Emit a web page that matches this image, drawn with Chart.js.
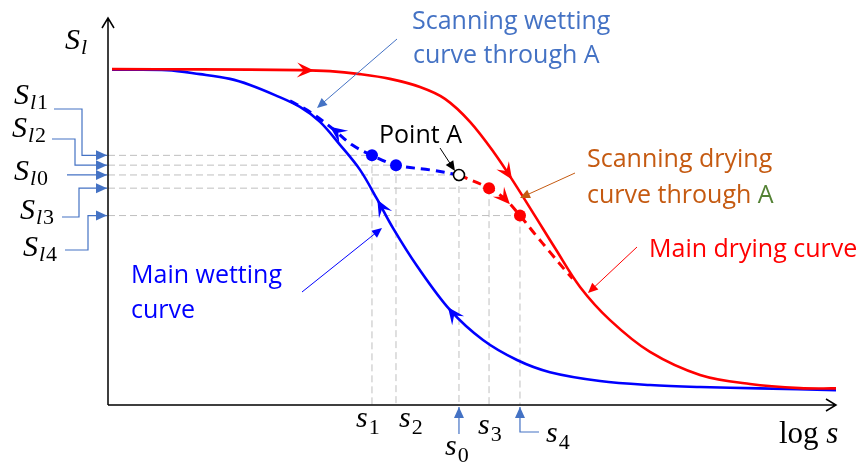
<!DOCTYPE html>
<html>
<head>
<meta charset="utf-8">
<script src="https://cdn.jsdelivr.net/npm/chart.js@4/dist/chart.umd.min.js"></script>
<style>
  html, body { margin: 0; padding: 0; background: #fff; }
  canvas { display: block; }
</style>
</head>
<body>
<canvas id="chart" width="866" height="465"></canvas>
<script>
// x = log s (0..10), y = S_l (plateau ~1)
// main drying curve
const dryX = [0.055, 1.264, 2.637, 3.049, 3.462, 3.874, 4.286, 4.629, 4.973, 5.316, 5.591, 5.865, 6.140, 6.484, 6.896, 7.445, 8.132, 8.819, 9.505, 10.0];
const dryY = [0.999, 0.998, 0.996, 0.993, 0.984, 0.970, 0.946, 0.911, 0.843, 0.748, 0.659, 0.565, 0.470, 0.355, 0.257, 0.163, 0.095, 0.068, 0.056, 0.055];
// main wetting curve
const wetX = [0.055, 0.810, 1.264, 1.676, 1.951, 2.294, 2.637, 2.912, 3.187, 3.462, 3.695, 3.915, 4.245, 4.698, 5.151, 5.618, 6.071, 6.758, 7.445, 8.132, 8.956, 10.0];
const wetY = [0.997, 0.996, 0.984, 0.970, 0.952, 0.922, 0.887, 0.843, 0.775, 0.701, 0.615, 0.529, 0.417, 0.287, 0.198, 0.139, 0.103, 0.077, 0.065, 0.059, 0.055, 0.050];
// scanning wetting curve through A
const scanWetX = [2.500, 2.775, 3.091, 3.352, 3.626, 3.956, 4.423, 4.821];
const scanWetY = [0.905, 0.872, 0.822, 0.775, 0.744, 0.715, 0.701, 0.686];
// scanning drying curve through A
const scanDryX = [4.821, 5.234, 5.453, 5.659, 5.865, 6.071, 6.277, 6.380];
const scanDryY = [0.686, 0.647, 0.615, 0.566, 0.511, 0.458, 0.405, 0.380];
// marked states: s1, s2, s0 (point A), s3, s4
const markSub = ['1', '2', '0', '3', '4'];
const markLogS = [3.626, 3.956, 4.821, 5.234, 5.659];
const markSl = [0.744, 0.715, 0.686, 0.647, 0.566];

const RED = '#ff0000';
const BLUE = '#0000ff';
const LIGHTBLUE = '#4472c4';
const ORANGE = '#c55a11';
const GREEN = '#548235';

const pts = (xs, ys) => xs.map((x, i) => ({ x: x, y: ys[i] }));

function stealth(ctx, x, y, ang, len, wid, color) {
  ctx.save();
  ctx.translate(x, y);
  ctx.rotate(ang);
  ctx.beginPath();
  ctx.moveTo(0, 0);
  ctx.lineTo(-len, -wid / 2);
  ctx.lineTo(-len * 0.6, 0);
  ctx.lineTo(-len, wid / 2);
  ctx.closePath();
  ctx.fillStyle = color;
  ctx.fill();
  ctx.restore();
}

function tri(ctx, x, y, ang, len, wid, color) {
  ctx.save();
  ctx.translate(x, y);
  ctx.rotate(ang);
  ctx.beginPath();
  ctx.moveTo(0, 0);
  ctx.lineTo(-len, -wid / 2);
  ctx.lineTo(-len, wid / 2);
  ctx.closePath();
  ctx.fillStyle = color;
  ctx.fill();
  ctx.restore();
}

function leader(ctx, x0, y0, x1, y1, color) {
  const ang = Math.atan2(y1 - y0, x1 - x0);
  ctx.save();
  ctx.strokeStyle = color;
  ctx.lineWidth = 1;
  ctx.beginPath();
  ctx.moveTo(x0, y0);
  ctx.lineTo(x1 - 8 * Math.cos(ang), y1 - 8 * Math.sin(ang));
  ctx.stroke();
  ctx.restore();
  tri(ctx, x1, y1, ang, 10, 9, color);
}

function elbow(ctx, path, color) {
  ctx.save();
  ctx.strokeStyle = color;
  ctx.lineWidth = 1.2;
  ctx.beginPath();
  path.forEach((p, i) => i ? ctx.lineTo(p[0], p[1]) : ctx.moveTo(p[0], p[1]));
  ctx.stroke();
  ctx.restore();
  const a = path[path.length - 2], b = path[path.length - 1];
  tri(ctx, b[0], b[1], Math.atan2(b[1] - a[1], b[0] - a[0]), 11, 10, color);
}

// position + direction on a curve at a given log s
function onCurve(sx, sy, xs, ys, xv, dir) {
  let i = 0;
  while (i < xs.length - 2 && xs[i + 1] < xv) i++;
  const x0 = sx.getPixelForValue(xs[i]), y0 = sy.getPixelForValue(ys[i]);
  const x1 = sx.getPixelForValue(xs[i + 1]), y1 = sy.getPixelForValue(ys[i + 1]);
  const t = (xv - xs[i]) / (xs[i + 1] - xs[i]);
  const ang = Math.atan2(y1 - y0, x1 - x0) + (dir < 0 ? Math.PI : 0);
  return { x: x0 + t * (x1 - x0), y: y0 + t * (y1 - y0), ang: ang };
}

const MATH = '"Liberation Serif", "DejaVu Serif", serif';
function mathLabel(ctx, base, sub, x, yb, subDy) {
  ctx.fillStyle = '#000';
  ctx.font = 'italic 30px ' + MATH;
  ctx.fillText(base, x, yb);
  let cx = x + ctx.measureText(base).width + 1;
  if (sub.length) {
    if (sub[0] === 'l') {
      ctx.font = 'italic 22px ' + MATH;
      ctx.fillText('l', cx, yb + subDy);
      cx += ctx.measureText('l').width + 1;
      sub = sub.slice(1);
    }
    ctx.font = '22px ' + MATH;
    ctx.fillText(sub, cx, yb + subDy);
  }
}

const curveArrows = [
  { xs: dryX, ys: dryY, x: 2.83, dir: 1, color: RED },
  { xs: dryX, ys: dryY, x: 5.55, dir: 1, color: RED },
  { xs: scanDryX, ys: scanDryY, x: 5.52, dir: 1, color: RED },
  { xs: scanWetX, ys: scanWetY, x: 3.05, dir: -1, color: BLUE },
  { xs: wetX, ys: wetY, x: 3.70, dir: -1, color: BLUE },
  { xs: wetX, ys: wetY, x: 4.67, dir: -1, color: BLUE }
];

const sketch = {
  id: 'sketch',
  beforeDatasetsDraw(chart) {
    const { ctx, chartArea: a, scales: { x, y } } = chart;
    ctx.save();
    ctx.strokeStyle = '#bfbfbf';
    ctx.lineWidth = 1;
    ctx.setLineDash([7, 4]);
    markLogS.forEach((m, i) => {
      const px = x.getPixelForValue(m), py = y.getPixelForValue(markSl[i]);
      ctx.beginPath();
      ctx.moveTo(a.left, py);
      ctx.lineTo(px, py);
      ctx.moveTo(px, py);
      ctx.lineTo(px, a.bottom);
      ctx.stroke();
    });
    ctx.restore();
  },
  afterDatasetsDraw(chart) {
    const { ctx, chartArea: a, scales: { x, y } } = chart;

    // axes
    ctx.save();
    ctx.strokeStyle = '#000';
    ctx.lineWidth = 1.5;
    ctx.beginPath();
    ctx.moveTo(a.left, a.bottom);
    ctx.lineTo(a.left, a.top);
    ctx.moveTo(a.left, a.bottom);
    ctx.lineTo(a.right, a.bottom);
    ctx.moveTo(a.left - 6, a.top + 10);
    ctx.lineTo(a.left, a.top);
    ctx.lineTo(a.left + 6, a.top + 10);
    ctx.moveTo(a.right - 10, a.bottom - 6);
    ctx.lineTo(a.right, a.bottom);
    ctx.lineTo(a.right - 10, a.bottom + 6);
    ctx.stroke();
    ctx.restore();

    // direction arrows on curves
    curveArrows.forEach(c => {
      const p = onCurve(x, y, c.xs, c.ys, c.x, c.dir);
      stealth(ctx, p.x, p.y, p.ang, 17, 15, c.color);
    });

    // S_l markers on the vertical axis
    const py = markSl.map(v => y.getPixelForValue(v));
    const tipX = a.left - 1;
    elbow(ctx, [[54, 109], [82, 109], [82, py[0]], [tipX, py[0]]], LIGHTBLUE);
    elbow(ctx, [[52, 139], [75, 139], [75, py[1]], [tipX, py[1]]], LIGHTBLUE);
    elbow(ctx, [[67, py[2]], [tipX, py[2]]], LIGHTBLUE);
    elbow(ctx, [[62, 217], [79, 217], [79, py[3]], [tipX, py[3]]], LIGHTBLUE);
    elbow(ctx, [[65, 250], [88, 250], [88, py[4]], [tipX, py[4]]], LIGHTBLUE);

    // s markers under the horizontal axis
    const px = markLogS.map(v => x.getPixelForValue(v));
    elbow(ctx, [[px[2], 434], [px[2], a.bottom + 2]], LIGHTBLUE);
    elbow(ctx, [[539, 432], [px[4], 432], [px[4], a.bottom + 2]], LIGHTBLUE);

    // math labels
    ctx.textBaseline = 'alphabetic';
    ctx.textAlign = 'left';
    mathLabel(ctx, 'S', 'l', 65, 49, 5);
    mathLabel(ctx, 'S', 'l1', 14, 104, 5);
    mathLabel(ctx, 'S', 'l2', 12, 137, 5);
    mathLabel(ctx, 'S', 'l0', 14, 180, 5);
    mathLabel(ctx, 'S', 'l3', 20, 219, 5);
    mathLabel(ctx, 'S', 'l4', 23, 256, 5);
    const sPos = [[356, 427], [399, 427], [445, 455], [478, 434], [546, 442]];
    sPos.forEach((p, i) => mathLabel(ctx, 's', markSub[i], p[0], p[1], 7));
    ctx.fillStyle = '#000';
    ctx.font = '31px ' + MATH;
    ctx.fillText('log', 779, 443);
    const lw = ctx.measureText('log ').width;
    ctx.font = 'italic 31px ' + MATH;
    ctx.fillText('s', 779 + lw, 443);

    // callouts
    ctx.font = '25px "Open Sans", sans-serif';
    ctx.fillStyle = LIGHTBLUE;
    ctx.fillText('Scanning wetting', 412, 29);
    ctx.fillText('curve through A', 413, 63);
    leader(ctx, 397, 39, 317, 108, LIGHTBLUE);

    ctx.fillStyle = '#000';
    ctx.fillText('Point A', 379, 143);
    leader(ctx, 440, 148, px[2] - 4, py[2] - 4, '#000');

    ctx.fillStyle = ORANGE;
    ctx.fillText('Scanning drying', 587, 167);
    ctx.fillText('curve through ', 587, 203);
    const cw = ctx.measureText('curve through ').width;
    ctx.fillStyle = GREEN;
    ctx.fillText('A', 587 + cw, 203);
    leader(ctx, 575, 173, 520, 198, ORANGE);

    ctx.fillStyle = RED;
    ctx.fillText('Main drying curve', 649, 257);
    leader(ctx, 637, 247, 588, 293, RED);

    ctx.fillStyle = BLUE;
    ctx.fillText('Main wetting', 131, 283);
    ctx.fillText('curve', 131, 318);
    leader(ctx, 302, 292, 382, 228, BLUE);
  }
};

const dot = i => ({ x: markLogS[i], y: markSl[i] });
const curve = { showLine: true, pointRadius: 0, tension: 0.35 };

new Chart(document.getElementById('chart'), {
  type: 'scatter',
  data: {
    datasets: [
      { label: 'Point A', data: [dot(2)], pointRadius: 5.5, pointBackgroundColor: '#fff', pointBorderColor: '#000', pointBorderWidth: 1.6, order: 0 },
      { label: 'wet dots', data: [dot(0), dot(1)], pointRadius: 6, pointBackgroundColor: BLUE, pointBorderWidth: 0, order: 1 },
      { label: 'dry dots', data: [dot(3), dot(4)], pointRadius: 6, pointBackgroundColor: RED, pointBorderWidth: 0, order: 1 },
      { ...curve, label: 'Scanning wetting', data: pts(scanWetX, scanWetY), borderColor: BLUE, borderWidth: 3, borderDash: [9, 6], order: 2 },
      { ...curve, label: 'Scanning drying', data: pts(scanDryX, scanDryY), borderColor: RED, borderWidth: 3, borderDash: [9, 6], order: 2 },
      { ...curve, label: 'Main drying', data: pts(dryX, dryY), borderColor: RED, borderWidth: 2.6, order: 3 },
      { ...curve, label: 'Main wetting', data: pts(wetX, wetY), borderColor: BLUE, borderWidth: 2.6, order: 4 }
    ]
  },
  options: {
    responsive: false,
    animation: false,
    layout: { padding: { left: 108, right: 30, top: 18, bottom: 60 } },
    plugins: { legend: { display: false }, tooltip: { enabled: false } },
    scales: {
      x: { type: 'linear', min: 0, max: 10, display: false },
      y: { type: 'linear', min: 0.006, max: 1.15, display: false }
    }
  },
  plugins: [sketch]
});
</script>
</body>
</html>
